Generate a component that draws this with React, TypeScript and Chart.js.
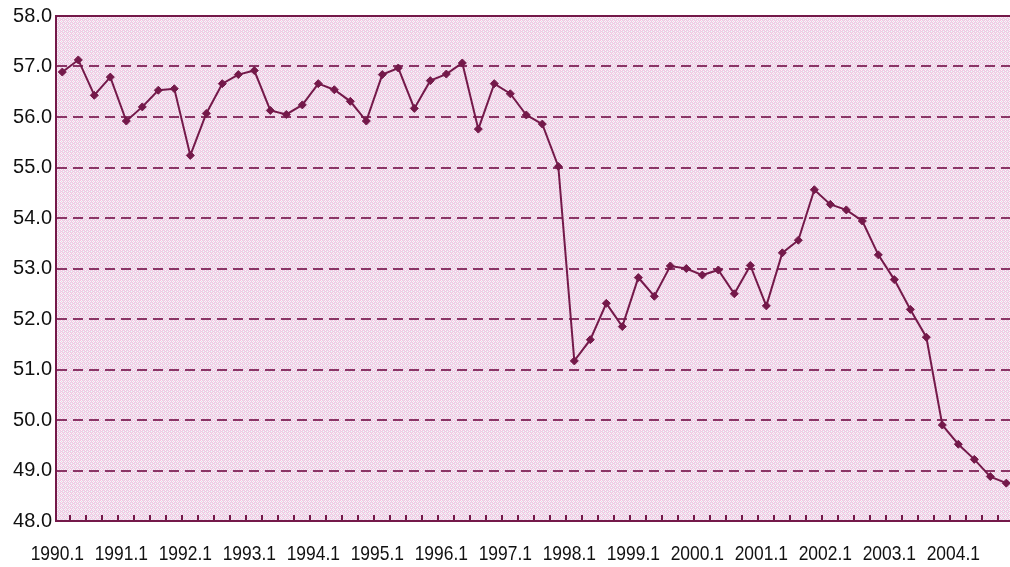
import React, { useEffect, useRef } from "react";
import { Chart, registerables } from "chart.js";

Chart.register(...registerables);

// Quarterly categories 1990.1 – 2004.4
const categories: string[] = [
  "1990.1", "1990.2", "1990.3", "1990.4",
  "1991.1", "1991.2", "1991.3", "1991.4",
  "1992.1", "1992.2", "1992.3", "1992.4",
  "1993.1", "1993.2", "1993.3", "1993.4",
  "1994.1", "1994.2", "1994.3", "1994.4",
  "1995.1", "1995.2", "1995.3", "1995.4",
  "1996.1", "1996.2", "1996.3", "1996.4",
  "1997.1", "1997.2", "1997.3", "1997.4",
  "1998.1", "1998.2", "1998.3", "1998.4",
  "1999.1", "1999.2", "1999.3", "1999.4",
  "2000.1", "2000.2", "2000.3", "2000.4",
  "2001.1", "2001.2", "2001.3", "2001.4",
  "2002.1", "2002.2", "2002.3", "2002.4",
  "2003.1", "2003.2", "2003.3", "2003.4",
  "2004.1", "2004.2", "2004.3", "2004.4",
];

const values: number[] = [
  56.89, 57.13, 56.43, 56.79,
  55.92, 56.2, 56.53, 56.56,
  55.24, 56.07, 56.66, 56.84,
  56.92, 56.13, 56.05, 56.24,
  56.66, 56.54, 56.31, 55.92,
  56.84, 56.97, 56.17, 56.72,
  56.85, 57.07, 55.76, 56.66,
  56.46, 56.04, 55.86, 55.02,
  51.17, 51.59, 52.31, 51.85,
  52.82, 52.45, 53.05, 53.0,
  52.87, 52.97, 52.5, 53.06,
  52.26, 53.31, 53.56, 54.56,
  54.27, 54.16, 53.94, 53.27,
  52.78, 52.19, 51.64, 49.9,
  49.52, 49.22, 48.88, 48.75,
];

const xTickLabels: string[] = [
  "1990.1", "1991.1", "1992.1", "1993.1", "1994.1", "1995.1", "1996.1", "1997.1",
  "1998.1", "1999.1", "2000.1", "2001.1", "2002.1", "2003.1", "2004.1",
];

const Y_MIN = 48;
const Y_MAX = 58;

const MAROON = "#74194a";
const GRID = "#8a3566";

function makePattern(ctx: CanvasRenderingContext2D): CanvasPattern | string {
  const c = document.createElement("canvas");
  c.width = 4;
  c.height = 4;
  const p = c.getContext("2d");
  if (!p) return "#f1d9ea";
  const P = "#f4c6e2";
  const L = "#e4dcea";
  const W = "#fbf2f8";
  const layout = [
    [P, W, P, L],
    [W, L, W, P],
    [P, W, P, L],
    [L, P, L, W],
  ];
  for (let y = 0; y < 4; y++) {
    for (let x = 0; x < 4; x++) {
      p.fillStyle = layout[y][x];
      p.fillRect(x, y, 1, 1);
    }
  }
  return ctx.createPattern(c, "repeat") || "#f1d9ea";
}

const framePlugin = {
  id: "frame",
  beforeDraw(chart: any) {
    const { ctx, chartArea } = chart;
    ctx.save();
    ctx.fillStyle = makePattern(ctx);
    ctx.fillRect(chartArea.left, chartArea.top, chartArea.right - chartArea.left, chartArea.bottom - chartArea.top);
    ctx.restore();
  },
  beforeDatasetsDraw(chart: any) {
    const { ctx, chartArea, scales } = chart;
    const xs = scales.x;
    ctx.save();
    // top border
    ctx.strokeStyle = MAROON;
    ctx.lineWidth = 2;
    ctx.beginPath();
    ctx.moveTo(chartArea.left, chartArea.top);
    ctx.lineTo(chartArea.right, chartArea.top);
    ctx.stroke();
    // small inward tick marks between quarters
    ctx.beginPath();
    ctx.rect(chartArea.left, chartArea.top, chartArea.right - chartArea.left, chartArea.bottom - chartArea.top + 2);
    ctx.clip();
    ctx.lineWidth = 2;
    ctx.beginPath();
    for (let i = 0; i < categories.length; i++) {
      const px = Math.round(xs.getPixelForValue(i + 0.5));
      ctx.moveTo(px, chartArea.bottom);
      ctx.lineTo(px, chartArea.bottom - 6);
    }
    ctx.stroke();
    ctx.restore();
  },
  afterDraw(chart: any) {
    // condensed x-axis labels, positioned from the x scale
    const { ctx, scales } = chart;
    const xs = scales.x;
    ctx.save();
    ctx.fillStyle = "#111";
    ctx.font = "21px 'Liberation Sans', Arial, sans-serif";
    ctx.textAlign = "center";
    ctx.textBaseline = "alphabetic";
    xTickLabels.forEach((label) => {
      const idx = categories.indexOf(label);
      const px = xs.getPixelForValue(idx) - 5;
      ctx.save();
      ctx.translate(px, xs.top + 39);
      ctx.scale(0.83, 1);
      ctx.fillText(label, 0, 0);
      ctx.restore();
    });
    ctx.restore();
  },
};

export default function App() {
  const canvasRef = useRef<HTMLCanvasElement | null>(null);

  useEffect(() => {
    document.body.style.margin = "0";
    const canvas = canvasRef.current;
    if (!canvas) return;
    const tickIdx = xTickLabels.map((l) => categories.indexOf(l));
    const chart = new Chart(canvas, {
      type: "line",
      data: {
        datasets: [
          {
            data: values.map((v, i) => ({ x: i, y: v })),
            borderColor: MAROON,
            backgroundColor: MAROON,
            borderWidth: 2,
            pointStyle: "rectRot",
            pointRadius: 4,
            pointBorderWidth: 1,
            pointBackgroundColor: MAROON,
            pointBorderColor: MAROON,
            tension: 0,
            fill: false,
          },
        ],
      },
      options: {
        animation: false,
        responsive: false,
        devicePixelRatio: 1,
        layout: { autoPadding: false, padding: { top: 16, right: 0, left: 0, bottom: 0 } },
        plugins: {
          legend: { display: false },
          tooltip: { enabled: false },
        },
        scales: {
          x: {
            type: "linear",
            min: -0.394,
            max: 59.23,
            afterBuildTicks: (scale: any) => {
              scale.ticks = tickIdx.map((v) => ({ value: v }));
            },
            afterFit: (scale: any) => {
              scale.height = 46;
              scale.paddingLeft = 0;
              scale.paddingRight = 0;
            },
            grid: { display: false, drawTicks: false },
            border: { display: true, color: MAROON, width: 2 },
            ticks: { display: false },
          },
          y: {
            min: Y_MIN,
            max: Y_MAX,
            afterFit: (scale: any) => {
              scale.width = 56;
            },
            grid: {
              drawTicks: false,
              lineWidth: 2,
              color: (c: any) =>
                c.tick && (c.tick.value === Y_MIN || c.tick.value === Y_MAX) ? "rgba(0,0,0,0)" : GRID,
            },
            border: { display: true, color: MAROON, width: 2, dash: [10, 6] },
            ticks: {
              stepSize: 1,
              padding: 4,
              color: "#111",
              font: { family: "'Liberation Sans', Arial, sans-serif", size: 20 },
              callback: (v: any) => Number(v).toFixed(1),
            },
          },
        },
      },
      plugins: [framePlugin],
    });
    return () => chart.destroy();
  }, []);

  return (
    <div style={{ width: 1010, height: 567, position: "relative" }}>
      <canvas ref={canvasRef} width={1010} height={567} style={{ width: 1010, height: 567, display: "block" }} />
    </div>
  );
}
